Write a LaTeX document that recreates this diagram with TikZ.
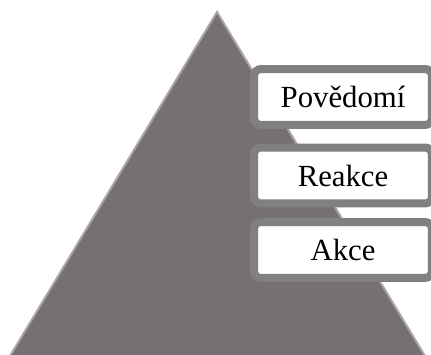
\documentclass[tikz,border=0pt]{standalone}
\usepackage{fontspec}
\setmainfont{Liberation Serif}
\definecolor{pyrgray}{HTML}{767170}
\definecolor{pyredge}{HTML}{A9A5A3}
\definecolor{boxgray}{HTML}{808080}
\tikzset{level/.style={draw=boxgray, line width=.16cm, fill=white, rounded corners=.14cm,
  minimum width=3.56cm, minimum height=1.12cm, inner sep=0pt, font=\fontsize{17.5}{21}\selectfont}}
\begin{document}
\begin{tikzpicture}[x=.02cm, y=-.02cm]
\useasboundingbox (0,0) rectangle (431,354);
\draw[fill=pyrgray, draw=pyredge, line width=.04cm](217,12)--(425,356)--(10,356)--cycle;
\node[level] (povedomi) at (343,97) {Povědomí};
\node[level] (reakce) at (343,175.5) {Reakce};
\node[level] (akce) at (343,250) {Akce};
\end{tikzpicture}
\end{document}
